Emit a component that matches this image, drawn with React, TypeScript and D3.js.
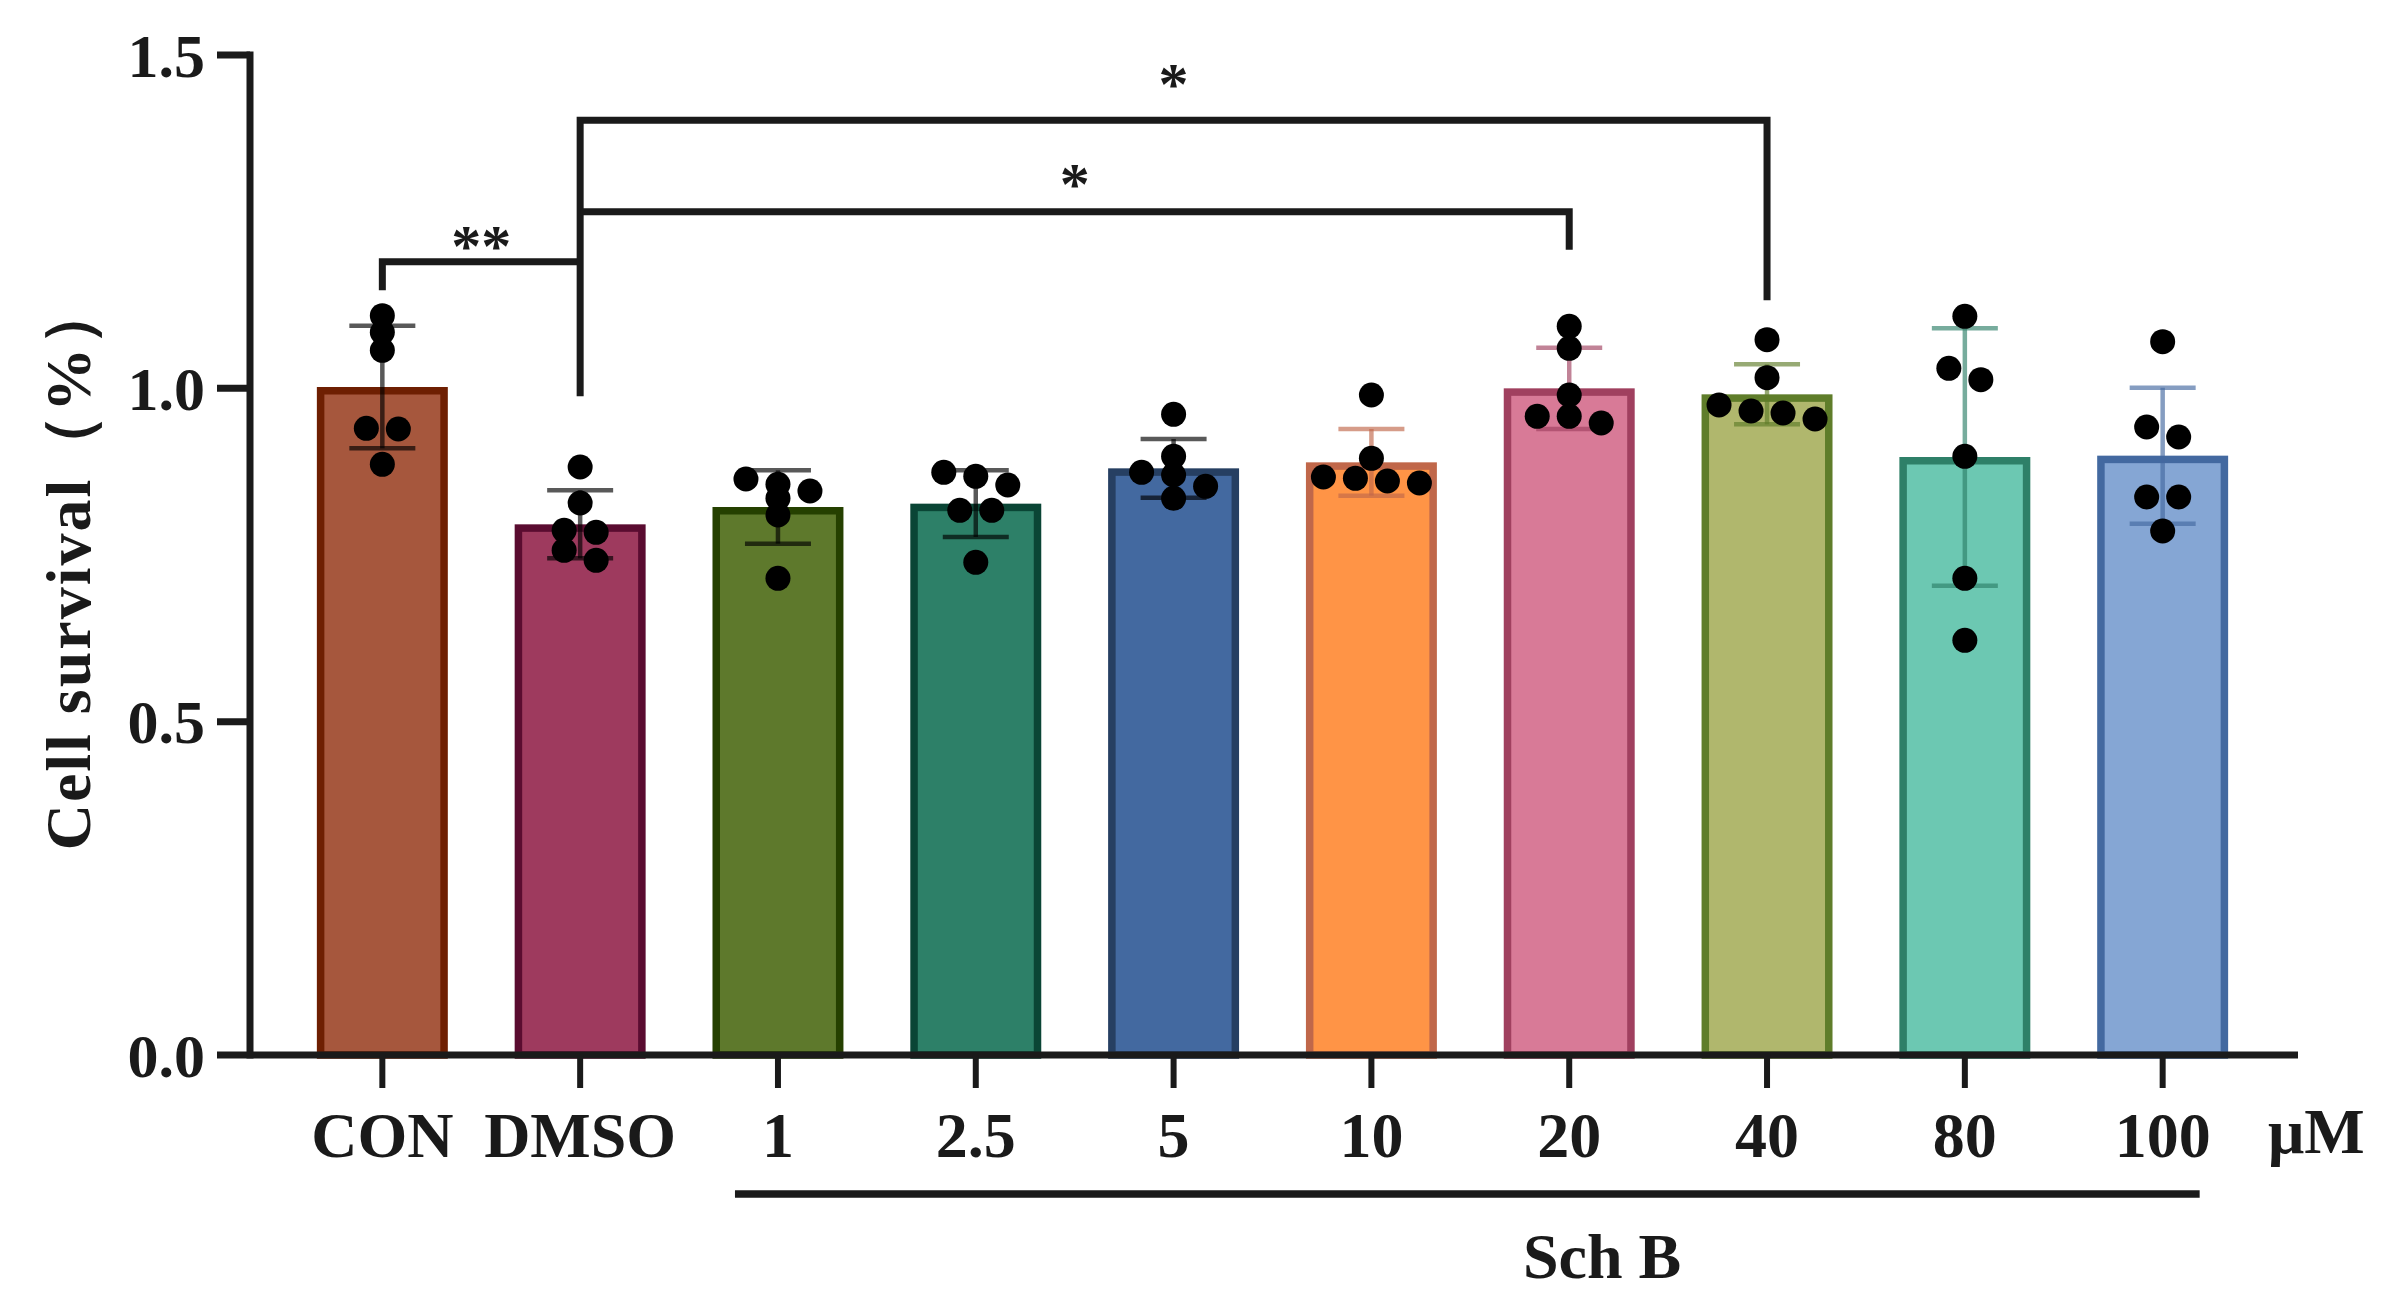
import * as d3 from "d3";

// groups on the x axis
const groups = ["CON", "DMSO", "1", "2.5", "5", "10", "20", "40", "80", "100"];

// bar heights (mean) and error bars (SD)
const means = [1.002, 0.796, 0.822, 0.827, 0.88, 0.889, 1.0, 0.991, 0.897, 0.899];
const sds = [0.092, 0.051, 0.055, 0.05, 0.044, 0.05, 0.061, 0.045, 0.193, 0.102];

// individual replicates per group
const points = [
  [1.109, 1.084, 1.057, 0.94, 0.939, 0.886],
  [0.882, 0.828, 0.784, 0.787, 0.757, 0.742],
  [0.864, 0.856, 0.846, 0.835, 0.81, 0.715],
  [0.874, 0.868, 0.855, 0.817, 0.817, 0.739],
  [0.961, 0.898, 0.874, 0.87, 0.853, 0.835],
  [0.99, 0.895, 0.867, 0.865, 0.861, 0.858],
  [1.093, 1.06, 0.99, 0.958, 0.958, 0.948],
  [1.073, 1.016, 0.975, 0.966, 0.963, 0.954],
  [1.108, 1.03, 1.013, 0.898, 0.715, 0.622],
  [1.07, 0.942, 0.927, 0.837, 0.837, 0.786],
];

const yTicks = [0, 0.5, 1.0, 1.5];

const fills = ["#A6573D", "#9E3A5E", "#5E792C", "#2D8068", "#4369A0", "#FF9446", "#D87A97", "#B0B76D", "#6CC8B2", "#85A6D4"];
const strokes = ["#6E1F02", "#5A0C30", "#254000", "#0A4535", "#263F62", "#C0674A", "#A0405F", "#5F7D2A", "#2E8068", "#4369A0"];
const errColors = ["#000", "#000", "#000", "#000", "#000", "#C0674A", "#A0405F", "#5F7D2A", "#2E8068", "#4369A0"];

const W = 2401;
const H = 1304;
const FONT = "'Liberation Serif', 'Times New Roman', serif";
const INK = "#1a1a1a";

// simple row-based dodge like Prism: close values sit side by side
function dodge(vals: number[], y: (v: number) => number, gap = 32, tol = 15) {
  const sorted = vals.map((v) => ({ v, py: y(v) })).sort((a, b) => a.py - b.py);
  const out: { v: number; py: number; dx: number }[] = [];
  let row: { v: number; py: number }[] = [];
  const flush = () => {
    row.forEach((p, i) => out.push({ ...p, dx: (i - (row.length - 1) / 2) * gap }));
    row = [];
  };
  for (const p of sorted) {
    if (row.length && p.py - row[0].py >= tol) flush();
    row.push(p);
  }
  flush();
  return out;
}

const App = () => {
  const x = d3.scaleBand().domain(groups).range([250, 2295]).padding(0.338);
  const y = d3.scaleLinear().domain([0, 1.5]).range([1055, 55]);
  const bw = x.bandwidth();
  const cx = (g: string) => (x(g) as number) + bw / 2;
  const sw = 7.5;
  const axisW = 7;

  const xDMSO = cx("DMSO");
  const xCON = cx("CON");
  const x20 = cx("20");
  const x40 = cx("40");

  return (
    <svg width={W} height={H} style={{ position: "absolute", left: 0, top: 0, background: "#fff" }} fontFamily={FONT}>
      {/* bars */}
      {groups.map((g, i) => (
        <rect
          key={g}
          x={(x(g) as number) + sw / 2}
          width={bw - sw}
          y={y(means[i]) + sw / 2}
          height={y(0) - y(means[i]) - sw / 2}
          fill={fills[i]}
          stroke={strokes[i]}
          strokeWidth={sw}
        />
      ))}

      {/* error bars */}
      {groups.map((g, i) => {
        const c = cx(g);
        const top = y(means[i] + sds[i]);
        const bot = y(means[i] - sds[i]);
        return (
          <g key={g} stroke={errColors[i]} strokeOpacity={0.65} strokeWidth={4.5}>
            <line x1={c} x2={c} y1={top} y2={bot} />
            <line x1={c - 33} x2={c + 33} y1={top} y2={top} />
            <line x1={c - 33} x2={c + 33} y1={bot} y2={bot} />
          </g>
        );
      })}

      {/* replicate dots */}
      {groups.map((g, i) =>
        dodge(points[i], y).map((p, j) => (
          <circle key={g + j} cx={cx(g) + p.dx} cy={p.py} r={12.5} fill="#000" />
        ))
      )}

      {/* y axis */}
      <line x1={250} x2={250} y1={y(1.5) - axisW / 2} y2={y(0) + axisW / 2} stroke={INK} strokeWidth={axisW} />
      {yTicks.map((t) => (
        <g key={t}>
          <line x1={217} x2={250} y1={y(t)} y2={y(t)} stroke={INK} strokeWidth={axisW} />
          <text x={205} y={y(t)} dy="0.35em" textAnchor="end" fontSize={62} fontWeight="bold" fill={INK}>
            {d3.format(".1f")(t)}
          </text>
        </g>
      ))}
      <text
        transform={`translate(90, 565) rotate(-90)`}
        textAnchor="middle"
        fontSize={64}
        fontWeight="bold"
        letterSpacing={2}
        fill={INK}
      >
        Cell survival（%）
      </text>

      {/* x axis */}
      <line x1={250} x2={2298} y1={y(0)} y2={y(0)} stroke={INK} strokeWidth={axisW} />
      {groups.map((g) => (
        <g key={g}>
          <line x1={cx(g)} x2={cx(g)} y1={y(0)} y2={1088} stroke={INK} strokeWidth={6} />
          <text x={cx(g)} y={1157} textAnchor="middle" fontSize={64} fontWeight="bold" fill={INK}>
            {g}
          </text>
        </g>
      ))}
      <text x={2268} y={1153} fontSize={64} fontWeight="bold" fill={INK}>
        μM
      </text>
      <line x1={cx("1") - 43} x2={cx("100") + 37} y1={1194} y2={1194} stroke={INK} strokeWidth={7.5} />
      <text x={1523} y={1278} fontSize={64} fontWeight="bold" fill={INK}>
        Sch B
      </text>

      {/* significance brackets */}
      <g fill="none" stroke={INK} strokeWidth={7} strokeLinejoin="miter" strokeLinecap="butt">
        <path d={`M${xCON},${y(1.147)} V${y(1.19)} H${xDMSO}`} />
        <path d={`M${xDMSO},${y(0.988)} V${y(1.402)} H${x40} V${y(1.132)}`} />
        <path d={`M${xDMSO},${y(1.265)} H${x20} V${y(1.208)}`} />
      </g>
      <g fontSize={60} fontWeight="bold" fill={INK} textAnchor="middle">
        <text x={(xCON + xDMSO) / 2} y={266}>**</text>
        <text x={(xDMSO + x40) / 2} y={104}>*</text>
        <text x={(xDMSO + x20) / 2} y={204}>*</text>
      </g>
    </svg>
  );
};

export default App;
